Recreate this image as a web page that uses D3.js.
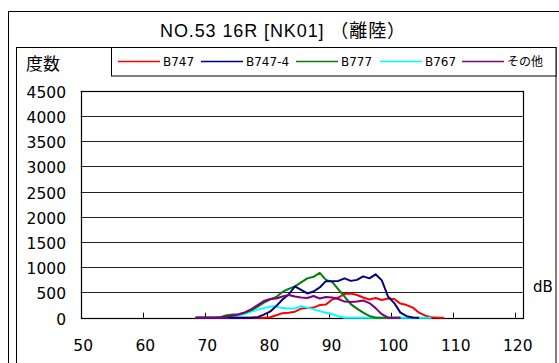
<!DOCTYPE html>
<html><head><meta charset="utf-8">
<script src="https://cdn.jsdelivr.net/npm/d3@7"></script>
<style>
html,body{margin:0;padding:0;background:#fff;}
svg{display:block;}
text{font-family:"DejaVu Sans","Noto Sans CJK JP",sans-serif;fill:#000;}
</style></head>
<body>
<svg id="c" width="559" height="363"></svg>
<script>
const title = "NO.53 16R [NK01] （離陸）";
const yTitle = "度数";
const xUnit = "dB";
const yTicks = [0, 500, 1000, 1500, 2000, 2500, 3000, 3500, 4000, 4500];
const xTicks = [50, 60, 70, 80, 90, 100, 110, 120];
const bins = [68.5,69.5,70.5,71.5,72.5,73.5,74.5,75.5,76.5,77.5,78.5,79.5,80.5,81.5,82.5,83.5,84.5,85.5,86.5,87.5,88.5,89.5,90.5,91.5,92.5,93.5,94.5,95.5,96.5,97.5,98.5,99.5,100.5,101.5,102.5,103.5,104.5,105.5,106.5,107.5,108.5];
const seriesNames = ["B747", "B747-4", "B777", "B767", "その他"];
const seriesColors = ["#ff0000", "#000080", "#008000", "#00ffff", "#800080"];
const b747 = [0,0,0,0,0,0,0,0,0,0,0,0,10,50,90,100,120,180,190,200,250,260,360,400,470,480,450,400,360,390,350,380,370,280,250,200,100,40,10,0,0];
const b747_4 = [0,0,0,0,0,0,0,0,0,0,10,60,120,230,360,460,620,550,480,520,600,725,725,730,780,730,750,820,780,860,740,420,290,100,30,5,0,null,null,null,null];
const b777 = [0,0,0,0,10,50,65,70,100,150,220,300,360,410,510,570,620,700,780,810,890,750,710,560,420,270,180,100,35,0,0,0,0,0,null,null,null,null,null,null,null];
const b767 = [0,0,0,0,0,0,20,50,80,120,160,190,220,220,190,180,180,230,200,170,130,100,70,30,0,0,0,0,0,0,0,0,0,0,0,0,0,0,0,null,null];
const other = [0,0,0,0,0,20,40,70,110,170,250,330,370,380,420,450,420,400,390,430,380,410,400,370,320,310,320,340,290,190,70,0,0,0,null,null,null,null,null,null,null];
const seriesValues = [b747, b747_4, b777, b767, other];
const drawOrder = [0, 3, 2, 1, 4];

const svg = d3.select("#c");
// frames
svg.append("rect").attr("x", 8.5).attr("y", 11.5).attr("width", 560).attr("height", 360)
  .attr("fill", "#fff").attr("stroke", "#000").attr("stroke-width", 1);
svg.append("rect").attr("x", 16.5).attr("y", 47.5).attr("width", 539.5).attr("height", 330)
  .attr("fill", "#fff").attr("stroke", "#000").attr("stroke-width", 1);

svg.append("text").attr("x", 283).attr("y", 37).attr("text-anchor", "middle")
  .style("font-family", '"Liberation Sans","Noto Sans CJK JP",sans-serif')
  .style("font-size", "18px").style("letter-spacing", "0.9px").text(title);

svg.append("text").attr("x", 26).attr("y", 70)
  .style("font-family", '"Noto Sans CJK JP",sans-serif').style("font-size", "17px").text(yTitle);

// legend
const lg = svg.append("g");
lg.append("rect").attr("x", 111.5).attr("y", 47.5).attr("width", 444.5).attr("height", 28.5)
  .attr("fill", "#fff").attr("stroke", "#000").attr("stroke-width", 1);
const legX = [118, 201, 296, 380, 462];
seriesNames.forEach((n, i) => {
  lg.append("line").attr("x1", legX[i]).attr("x2", legX[i] + 42).attr("y1", 61.5).attr("y2", 61.5)
    .attr("stroke", seriesColors[i]).attr("stroke-width", 1.5);
  lg.append("text").attr("x", legX[i] + 45).attr("y", 66)
    .style("font-family", '"DejaVu Sans","Noto Sans CJK JP",sans-serif')
    .style("font-size", "12px").text(n);
});

// scales
const x = d3.scaleLinear().domain([50, 120]).range([80.7, 515.3]);
const y = d3.scaleLinear().domain([0, 4500]).range([317.7, 90.7]);
const plotRight = 522.7;

// grid
svg.append("g").selectAll("line").data(yTicks.slice(1)).join("line")
  .attr("x1", x(50)).attr("x2", plotRight)
  .attr("y1", d => Math.round(y(d)) + 0.5).attr("y2", d => Math.round(y(d)) + 0.5)
  .attr("stroke", "#222").attr("stroke-width", 1);
// plot border
svg.append("rect").attr("x", Math.round(x(50)) + 0.5).attr("y", Math.round(y(4500)) + 0.5)
  .attr("width", plotRight - x(50)).attr("height", Math.round(y(0)) - Math.round(y(4500)))
  .attr("fill", "none").attr("stroke", "#000").attr("stroke-width", 1.2);

// y labels
svg.append("g").selectAll("text").data(yTicks).join("text")
  .attr("x", 66).attr("y", d => y(d) + 7).attr("text-anchor", "end")
  .style("font-size", "15.5px").text(d => d);

// x ticks and labels
svg.append("g").selectAll("line").data(xTicks.slice(1)).join("line")
  .attr("x1", d => Math.round(x(d)) + 0.5).attr("x2", d => Math.round(x(d)) + 0.5)
  .attr("y1", y(0)).attr("y2", y(0) - 5).attr("stroke", "#000");
svg.append("g").selectAll("text").data(xTicks).join("text")
  .attr("x", d => x(d) + 2.5).attr("y", 350.5).attr("text-anchor", "middle")
  .style("font-size", "15.5px").text(d => d);

svg.append("text").attr("x", 533).attr("y", 292).style("font-size", "15px").text(xUnit);

// series
const line = d3.line().defined(d => d[1] != null).x(d => x(d[0])).y(d => y(d[1]));
drawOrder.forEach(i => {
  const pts = bins.map((b, k) => [b, seriesValues[i][k]]);
  svg.append("path").attr("d", line(pts)).attr("fill", "none")
    .attr("stroke", seriesColors[i]).attr("stroke-width", 2).attr("stroke-linejoin", "round");
});
</script>
</body></html>
